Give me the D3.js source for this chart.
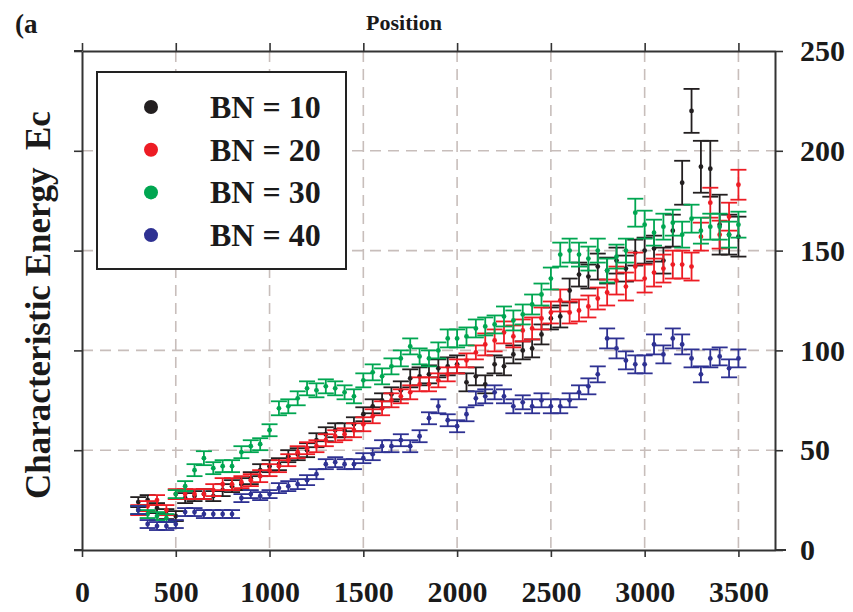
<!DOCTYPE html>
<html>
<head>
<meta charset="utf-8">
<script src="https://cdnjs.cloudflare.com/ajax/libs/d3/7.8.5/d3.min.js"></script>
<style>
  body { margin: 0; background: #fff; }
  svg { display: block; }
  text { font-family: "Liberation Serif", "Times New Roman", serif; font-weight: bold; fill: #1a1a1a; }
</style>
</head>
<body>
<div id="chart"></div>
<script>
// positions along the track (x), one point every 50 units
var positions = d3.range(300, 3501, 50);

var xTicks = [0, 500, 1000, 1500, 2000, 2500, 3000, 3500];
var yTicks = [0, 50, 100, 150, 200, 250];

var seriesNames = ["BN = 10", "BN = 20", "BN = 30", "BN = 40"];

// characteristic energy
var bn10 = [24,25,21,18,17,26,27,28,27,30, 32,33,36,40,42,43,47,48,50,55,
  58,60,60,63,68,72,75,78,80,86, 87,88,91,92,93,84,87,83,93,92,
  98,100,101,108,116,117,130,138,137,142, 140,145,141,149,150,151,145,160,184,220,
  192,191,163,158,157];
var bn10err = [2.5,2.5,2.5,2.5,2.5,2.5,2.5,2.5,2.5,3, 3,3,3,3,3,3,3,3,3.5,3.5,
  3.5,3.5,3.5,3.5,3.5,3.5,3.5,3.5,4.5,4.5, 4.5,4.5,4.5,4.5,4.5,4.5,4.5,4.5,4.5,4.5,
  4.5,4.5,4.5,5,5.5,5.5,6,6,6,6.5, 6.5,6.5,6.5,6.5,6.5,6.5,6.5,8,11,11,
  13,14,15,10,10];

var bn20 = [20,22,25,20,28,28,28,28,30,33, 33,34,35,37,40,42,45,49,51,52,
  55,57,58,60,63,67,71,75,77,79, 83,83,85,88,92,95,99,103,105,109,
  107,110,111,116,119,125,119,120,122,126, 129,135,132,142,136,139,141,143,143,142,
  157,174,158,167,183];
var bn20err = [2.5,2.5,2.5,2.5,2.5,2.5,2.5,2.5,3,3, 3,3,3,3,3,3,3,3,3,3,
  3,3,3,3.5,3.5,3.5,3.5,3.5,3.5,3.5, 3.5,3.5,3.5,3.5,3.5,3.5,3.5,5.5,5.5,5.5,
  5.5,5.5,5.5,5.5,5.5,5.5,5.5,5.5,5.5,5.5, 6.5,7,7,7,7,7,7,7,7,7,
  7,7.5,7,7,7.5];

var bn30 = [20,18,17,16,28,32,40,46,41,42, 42,49,52,53,60,71,72,76,81,80,
  82,81,79,77,85,89,87,92,96,102, 97,96,100,106,106,107,111,112,113,117,
  115,118,123,128,136,148,150,148,146,150, 140,147,150,169,163,159,162,164,158,166,
  160,162,162,158,163];
var bn30err = [2,2,2,2,2,2.5,3,3.5,3,3, 3,3,3,3,3,3.5,3.5,3.5,3.5,3.5,
  3.5,3.5,3.5,3.5,3.5,4,4,4,4,4, 4,4,4,4.5,4.5,4.5,4.5,4.5,4.5,5,
  5,5,5,5.5,5.5,6,6,6,6,6, 6,6,6,7,7,6.5,6.5,6.5,6.5,7,
  6.5,6.5,6.5,6.5,6.5];

var bn40 = [20,13,12,12,13,19,19,18,18,18, 18,26,28,27,28,31,32,33,35,38,
  43,44,43,43,46,48,52,52,55,52, 57,66,72,65,62,68,76,77,79,77,
  72,74,72,75,72,72,75,79,82,88, 106,101,95,93,93,103,98,106,103,96,
  88,96,97,91,96];
var bn40err = [2,2,2,2,2,2,2,2,2,2, 2,2,2,2,2,2.5,2.5,2.5,2.5,2.5,
  2.5,2.5,2.5,2.5,2.5,3,3,3,3,3, 3,3,3.5,3,3,3.5,3.5,3.5,3.5,3.5,
  3.5,3.5,3.5,3.5,3.5,3.5,3.5,3.5,4,4, 5,5,4.5,4.5,4.5,5,4.5,5,5,4.5,
  4,4.5,4.5,4.5,4.5];

var colors = ["#231f20", "#ed1c24", "#00a651", "#2e3192"];

var series = [
  {name: seriesNames[0], vals: bn10, err: bn10err, color: colors[0]},
  {name: seriesNames[1], vals: bn20, err: bn20err, color: colors[1]},
  {name: seriesNames[2], vals: bn30, err: bn30err, color: colors[2]},
  {name: seriesNames[3], vals: bn40, err: bn40err, color: colors[3]}
];

var W = 853, H = 612;
var plot = {left: 82, right: 775, top: 51, bottom: 550};

var svg = d3.select("#chart").append("svg")
  .attr("width", W)
  .attr("height", H);

var x = d3.scaleLinear().domain([0, 3695]).range([plot.left, plot.right]);
var y = d3.scaleLinear().domain([0, 250]).range([plot.bottom, plot.top]);

// dashed grid
var grid = svg.append("g")
  .attr("stroke", "#c8bebb")
  .attr("stroke-width", 1.6)
  .attr("stroke-dasharray", "11,7");
grid.selectAll("line.v")
  .data(xTicks.slice(1))
  .enter().append("line")
  .attr("x1", function (d) { return x(d); })
  .attr("x2", function (d) { return x(d); })
  .attr("y1", plot.top)
  .attr("y2", plot.bottom);
grid.selectAll("line.h")
  .data(yTicks.slice(1, -1))
  .enter().append("line")
  .attr("x1", plot.left)
  .attr("x2", plot.right)
  .attr("y1", function (d) { return y(d); })
  .attr("y2", function (d) { return y(d); });

// error bars + points
var capHalf = 8;
series.forEach(function (s) {
  var g = svg.append("g")
    .attr("stroke", s.color)
    .attr("fill", s.color)
    .attr("stroke-width", 1.8);
  var pts = positions.map(function (p, i) {
    return {x: p, y: s.vals[i], e: s.err[i]};
  });
  var bars = g.selectAll("g.bar").data(pts).enter().append("g");
  bars.append("line")
    .attr("x1", function (d) { return x(d.x); })
    .attr("x2", function (d) { return x(d.x); })
    .attr("y1", function (d) { return y(d.y + d.e); })
    .attr("y2", function (d) { return y(d.y - d.e); });
  bars.append("line")
    .attr("x1", function (d) { return x(d.x) - capHalf; })
    .attr("x2", function (d) { return x(d.x) + capHalf; })
    .attr("y1", function (d) { return y(d.y + d.e); })
    .attr("y2", function (d) { return y(d.y + d.e); });
  bars.append("line")
    .attr("x1", function (d) { return x(d.x) - capHalf; })
    .attr("x2", function (d) { return x(d.x) + capHalf; })
    .attr("y1", function (d) { return y(d.y - d.e); })
    .attr("y2", function (d) { return y(d.y - d.e); });
  bars.append("circle")
    .attr("cx", function (d) { return x(d.x); })
    .attr("cy", function (d) { return y(d.y); })
    .attr("r", 2.4)
    .attr("stroke", "none");
});

// axes
function styleAxis(g) {
  g.select(".domain").attr("stroke", "#333").attr("stroke-width", 2);
  g.selectAll(".tick line").attr("stroke", "#333").attr("stroke-width", 1.6);
}

var xBottom = svg.append("g")
  .attr("transform", "translate(0," + plot.bottom + ")")
  .call(d3.axisBottom(x).tickValues(xTicks).tickSize(7).tickSizeOuter(0)
    .tickFormat(d3.format("d")));
styleAxis(xBottom);
xBottom.selectAll("text")
  .attr("y", 52).attr("dy", 0)
  .style("font-size", "30px").attr("fill", "#1a1a1a");

var xTop = svg.append("g")
  .attr("transform", "translate(0," + plot.top + ")")
  .call(d3.axisTop(x).tickValues(xTicks).tickSize(8).tickSizeOuter(0).tickFormat(""));
styleAxis(xTop);

var yLeft = svg.append("g")
  .attr("transform", "translate(" + plot.left + ",0)")
  .call(d3.axisLeft(y).tickValues(yTicks).tickSize(8).tickSizeOuter(0).tickFormat(""));
styleAxis(yLeft);

var yRight = svg.append("g")
  .attr("transform", "translate(" + plot.right + ",0)")
  .call(d3.axisRight(y).tickValues(yTicks).tickSize(8).tickSizeOuter(0).tickPadding(17));
styleAxis(yRight);
yRight.selectAll("text")
  .style("font-size", "30px").attr("fill", "#1a1a1a");

// axis line overshoot at the corners
svg.append("line").attr("x1", 74).attr("x2", plot.left).attr("y1", plot.top).attr("y2", plot.top)
  .attr("stroke", "#333").attr("stroke-width", 2);
svg.append("line").attr("x1", 74).attr("x2", plot.left).attr("y1", plot.bottom).attr("y2", plot.bottom)
  .attr("stroke", "#333").attr("stroke-width", 2);
svg.append("line").attr("x1", plot.right).attr("x2", 786).attr("y1", plot.bottom).attr("y2", plot.bottom)
  .attr("stroke", "#333").attr("stroke-width", 2);

// legend
var legend = svg.append("g");
legend.append("rect")
  .attr("x", 97).attr("y", 72)
  .attr("width", 249).attr("height", 197)
  .attr("fill", "#fff")
  .attr("stroke", "#222")
  .attr("stroke-width", 2);
series.forEach(function (s, i) {
  var cy = 107 + i * 42.7;
  legend.append("circle")
    .attr("cx", 151).attr("cy", cy).attr("r", 7)
    .attr("fill", s.color);
  legend.append("text")
    .attr("x", 210).attr("y", cy + 11)
    .style("font-size", "32px")
    .text(s.name);
});

// titles
svg.append("text")
  .attr("x", 404).attr("y", 30)
  .attr("text-anchor", "middle")
  .style("font-size", "22px")
  .text("Position");

svg.append("text")
  .attr("transform", "translate(50,305) rotate(-90)")
  .attr("text-anchor", "middle")
  .style("font-size", "35px")
  .style("white-space", "pre")
  .text("Characteristic Energy  Ec");

svg.append("clipPath").attr("id", "cutA")
  .append("rect").attr("x", 0).attr("y", 0).attr("width", 44).attr("height", 50);
svg.append("text")
  .attr("x", 15).attr("y", 33)
  .attr("clip-path", "url(#cutA)")
  .style("font-size", "27px")
  .text("(a");
</script>
</body>
</html>
